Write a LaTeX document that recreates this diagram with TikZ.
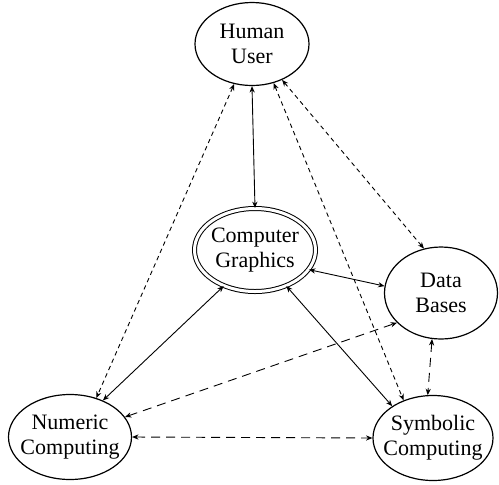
\documentclass[tikz,border=0pt]{standalone}
\usepackage{fontspec}
\setmainfont{Liberation Serif}
\usetikzlibrary{shapes.geometric,arrows.meta}

\begin{document}
\begin{tikzpicture}[x=0.5pt, y=-0.5pt]
	\tikzstyle{every node} = [ellipse, draw, line width=0.6pt, inner sep=-6pt, align=center, font=\fontsize{11}{12.5}\selectfont]
	\tikzstyle{link} = [line width=0.45pt, {Stealth[length=3.2pt,width=2.6pt]}-{Stealth[length=3.2pt,width=2.6pt]}]
	\tikzstyle{short dashes} = [link, dash pattern=on 2.2pt off 1.8pt]
	\tikzstyle{long dashes} = [link, dash pattern=on 4.5pt off 3pt]
	\useasboundingbox (0,0) rectangle (499,484);
	\node[minimum width=57pt, minimum height=41.5pt] (Human) at (252,44) {Human\\User};
	\node[minimum width=60.5pt, minimum height=41.5pt, double, double distance=1.5pt, line width=0.5pt] (Graphics) at (255,250) {Computer\\Graphics};
	\node[minimum width=56.5pt, minimum height=46pt] (Bases) at (441,293) {Data\\Bases};
	\node[minimum width=61.5pt, minimum height=42.5pt] (Numeric) at (70,437) {Numeric\\Computing};
	\node[minimum width=60pt, minimum height=42.5pt] (Symbolic) at (433,438) {Symbolic\\Computing};
	\draw [link] (Human.south)--(Graphics.north);
	\draw [short dashes] (Human.246)--(Numeric.56);
	\draw [short dashes] (Human.299)--(Symbolic.128);
	\draw [short dashes] (Human.310)--(Bases.111);
	\draw [link] (Graphics.340)--(Bases.173);
	\draw [link] (Graphics.229)--(Numeric.48);
	\draw [link] (Graphics.311)--(Symbolic.142);
	\draw [long dashes] (Numeric.20)--(Bases.214);
	\draw [long dashes] (Numeric.east)--(Symbolic.west);
	\draw [long dashes] (Bases.259)--(Symbolic.97);
\end{tikzpicture}
\end{document}
